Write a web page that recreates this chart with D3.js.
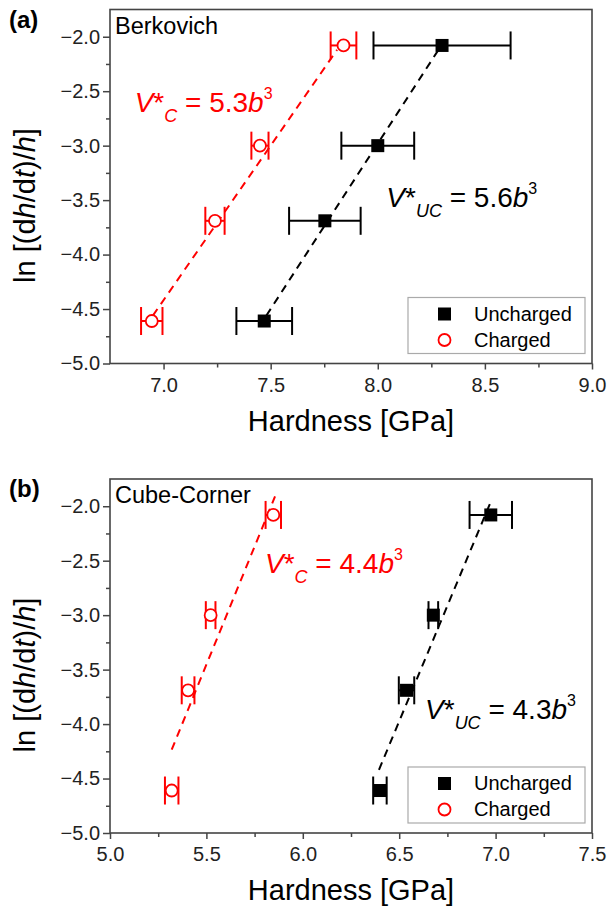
<!DOCTYPE html>
<html>
<head>
<meta charset="utf-8">
<script src="https://cdn.jsdelivr.net/npm/d3@7"></script>
<style>
    body { margin: 0; background: #fff; }
    text { font-family: "Liberation Sans", Arial, sans-serif; }
</style>
</head>
<body>
<script>
// ln[(dh/dt)/h] levels, same four loading rates in both panels
var rateLevels = [-2.08, -3.0, -3.69, -4.61];

// (a) Berkovich, hardness in GPa with +/- error
var berkUncharged = [8.30, 8.00, 7.753, 7.47];
var berkUnchargedErr = [0.32, 0.17, 0.167, 0.13];
var berkCharged = [7.84, 7.45, 7.24, 6.945];
var berkChargedErr = [0.06, 0.04, 0.045, 0.05];
var berkFitUncharged = [[7.48, -4.56], [8.29, -2.10]];
var berkFitCharged = [[6.95, -4.56], [7.81, -2.12]];

// (b) cube-corner
var cubeUncharged = [6.975, 6.677, 6.538, 6.40];
var cubeUnchargedErr = [0.11, 0.025, 0.04, 0.035];
var cubeCharged = [5.847, 5.522, 5.405, 5.32];
var cubeChargedErr = [0.04, 0.025, 0.033, 0.035];
var cubeFitUncharged = [[6.395, -4.42], [6.977, -1.95]];
var cubeFitCharged = [[5.32, -4.235], [5.856, -1.91]];

var berkXTicks = [7.0, 7.5, 8.0, 8.5, 9.0];
var cubeXTicks = [5.0, 5.5, 6.0, 6.5, 7.0, 7.5];
var yTicks = [-2.0, -2.5, -3.0, -3.5, -4.0, -4.5, -5.0];
var legendLabels = ["Uncharged", "Charged"];

var RED = "#ff0000", BLACK = "#000";

var svg = d3.select("body").append("svg")
    .attr("width", 607)
    .attr("height", 915);

function zip(xs, errs) {
    return xs.map(function (x, i) { return { x: x, y: rateLevels[i], e: errs[i] }; });
}

// V*_sub = val b^3 label built from tspans
function vLabel(g, px, py, sub, val, color) {
    var t = g.append("text")
        .attr("x", px).attr("y", py)
        .style("font-size", "28px")
        .style("fill", color);
    t.append("tspan").style("font-style", "italic").text("V");
    t.append("tspan").text("*");
    t.append("tspan").attr("dy", 10).style("font-size", "18px").style("font-style", "italic").text(sub);
    t.append("tspan").attr("dy", -10).text(" = " + val);
    t.append("tspan").style("font-style", "italic").text("b");
    t.append("tspan").attr("dy", -13).style("font-size", "16px").text("3");
}

function drawPanel(p) {
    var w = 482, h = 354;
    var g = svg.append("g").attr("transform", "translate(110," + p.top + ")");

    var x = d3.scaleLinear().domain(p.xDomain).range([0, w]);
    var y = d3.scaleLinear().domain([-5, -1.75]).range([h, 0]);

    var xMinor = d3.range(p.xDomain[0], p.xDomain[1] + 0.001, 0.25)
        .filter(function (v) { return Math.abs(v * 2 - Math.round(v * 2)) > 0.01; })
        .filter(function (v) { return v > p.xDomain[0] + 0.01; });
    var yMinor = [-2.25, -2.75, -3.25, -3.75, -4.25, -4.75];

    // axes
    var xAxis = g.append("g").attr("transform", "translate(0," + h + ")")
        .call(d3.axisBottom(x).tickValues(p.xTicks).tickFormat(d3.format(".1f")).tickSize(6).tickPadding(8));
    g.append("g").attr("transform", "translate(0," + h + ")")
        .call(d3.axisBottom(x).tickValues(xMinor).tickFormat("").tickSize(4));
    var yAxis = g.append("g")
        .call(d3.axisLeft(y).tickValues(yTicks).tickFormat(d3.format(".1f")).tickSize(7).tickPadding(3));
    g.append("g")
        .call(d3.axisLeft(y).tickValues(yMinor).tickFormat("").tickSize(4));

    g.selectAll(".domain").remove();
    g.selectAll(".tick line").attr("stroke", "#444").attr("stroke-width", 1.5);
    g.selectAll(".tick text").style("font-size", "20px").style("fill", "#222");

    g.append("rect")
        .attr("width", w).attr("height", h)
        .attr("fill", "none")
        .attr("stroke", "#444")
        .attr("stroke-width", 1.6);

    // fit lines
    var line = d3.line()
        .x(function (d) { return x(d[0]); })
        .y(function (d) { return y(d[1]); });
    [[p.fitC, RED], [p.fitUC, BLACK]].forEach(function (f) {
        g.append("path")
            .attr("d", line(f[0]))
            .attr("fill", "none")
            .attr("stroke", f[1])
            .attr("stroke-width", 2)
            .attr("stroke-dasharray", "8,6");
    });

    // error bars
    [[p.charged, RED], [p.uncharged, BLACK]].forEach(function (s) {
        var eb = g.append("g").selectAll("g").data(s[0]).enter().append("g")
            .attr("stroke", s[1]).attr("stroke-width", 2);
        eb.append("line")
            .attr("x1", function (d) { return x(d.x - d.e); })
            .attr("x2", function (d) { return x(d.x + d.e); })
            .attr("y1", function (d) { return y(d.y); })
            .attr("y2", function (d) { return y(d.y); });
        [-1, 1].forEach(function (sgn) {
            eb.append("line")
                .attr("x1", function (d) { return x(d.x + sgn * d.e); })
                .attr("x2", function (d) { return x(d.x + sgn * d.e); })
                .attr("y1", function (d) { return y(d.y) - 14; })
                .attr("y2", function (d) { return y(d.y) + 14; });
        });
    });

    // markers
    g.selectAll("circle.pt").data(p.charged).enter().append("circle")
        .attr("class", "pt")
        .attr("cx", function (d) { return x(d.x); })
        .attr("cy", function (d) { return y(d.y); })
        .attr("r", 6)
        .attr("fill", "#fff")
        .attr("stroke", RED)
        .attr("stroke-width", 1.8);
    g.selectAll("rect.pt").data(p.uncharged).enter().append("rect")
        .attr("class", "pt")
        .attr("x", function (d) { return x(d.x) - 6.5; })
        .attr("y", function (d) { return y(d.y) - 6.5; })
        .attr("width", 13).attr("height", 13)
        .attr("fill", BLACK);

    // labels
    g.append("text")
        .attr("x", -101).attr("y", p.letterY)
        .style("font-size", "24px").style("font-weight", "bold")
        .text(p.letter);
    g.append("text")
        .attr("x", 5).attr("y", 24)
        .style("font-size", "23.5px")
        .text(p.name);

    vLabel(g, x(p.cLabel[0]), y(p.cLabel[1]), "C", p.cVal, RED);
    vLabel(g, x(p.ucLabel[0]), y(p.ucLabel[1]), "UC", p.ucVal, BLACK);

    // legend
    var lw = 177, lh = 56;
    var lg = g.append("g").attr("transform", "translate(" + (w - 7 - lw) + "," + (h - 10 - lh) + ")");
    lg.append("rect").attr("width", lw).attr("height", lh)
        .attr("fill", "#fff").attr("stroke", "#aaa").attr("stroke-width", 1.2);
    lg.append("rect").attr("x", 30).attr("y", 10).attr("width", 13).attr("height", 13).attr("fill", BLACK);
    lg.append("circle").attr("cx", 36.5).attr("cy", 42.5).attr("r", 6)
        .attr("fill", "none").attr("stroke", RED).attr("stroke-width", 1.8);
    lg.selectAll("text").data(legendLabels).enter().append("text")
        .attr("x", 66)
        .attr("y", function (d, i) { return 23 + i * 26; })
        .style("font-size", "20px")
        .text(function (d) { return d; });

    // axis titles
    g.append("text")
        .attr("x", w / 2).attr("y", h + 67)
        .attr("text-anchor", "middle")
        .style("font-size", "29px")
        .text("Hardness [GPa]");
    var yt = g.append("text")
        .attr("transform", "translate(-75," + (h / 2 + 19) + ") rotate(-90)")
        .attr("text-anchor", "middle")
        .style("font-size", "29px");
    yt.append("tspan").text("ln [(d");
    yt.append("tspan").style("font-style", "italic").text("h");
    yt.append("tspan").text("/d");
    yt.append("tspan").style("font-style", "italic").text("t");
    yt.append("tspan").text(")/");
    yt.append("tspan").style("font-style", "italic").text("h");
    yt.append("tspan").text("]");
}

drawPanel({
    top: 9.5, xDomain: [6.75, 9.0], xTicks: berkXTicks,
    uncharged: zip(berkUncharged, berkUnchargedErr),
    charged: zip(berkCharged, berkChargedErr),
    fitUC: berkFitUncharged, fitC: berkFitCharged,
    letter: "(a)", letterY: 18, name: "Berkovich",
    cLabel: [6.865, -2.69], cVal: "5.3",
    ucLabel: [8.04, -3.56], ucVal: "5.6"
});

drawPanel({
    top: 479, xDomain: [5.0, 7.5], xTicks: cubeXTicks,
    uncharged: zip(cubeUncharged, cubeUnchargedErr),
    charged: zip(cubeCharged, cubeChargedErr),
    fitUC: cubeFitUncharged, fitC: cubeFitCharged,
    letter: "(b)", letterY: 18, name: "Cube-Corner",
    cLabel: [5.804, -2.615], cVal: "4.4",
    ucLabel: [6.634, -3.955], ucVal: "4.3"
});
</script>
</body>
</html>
